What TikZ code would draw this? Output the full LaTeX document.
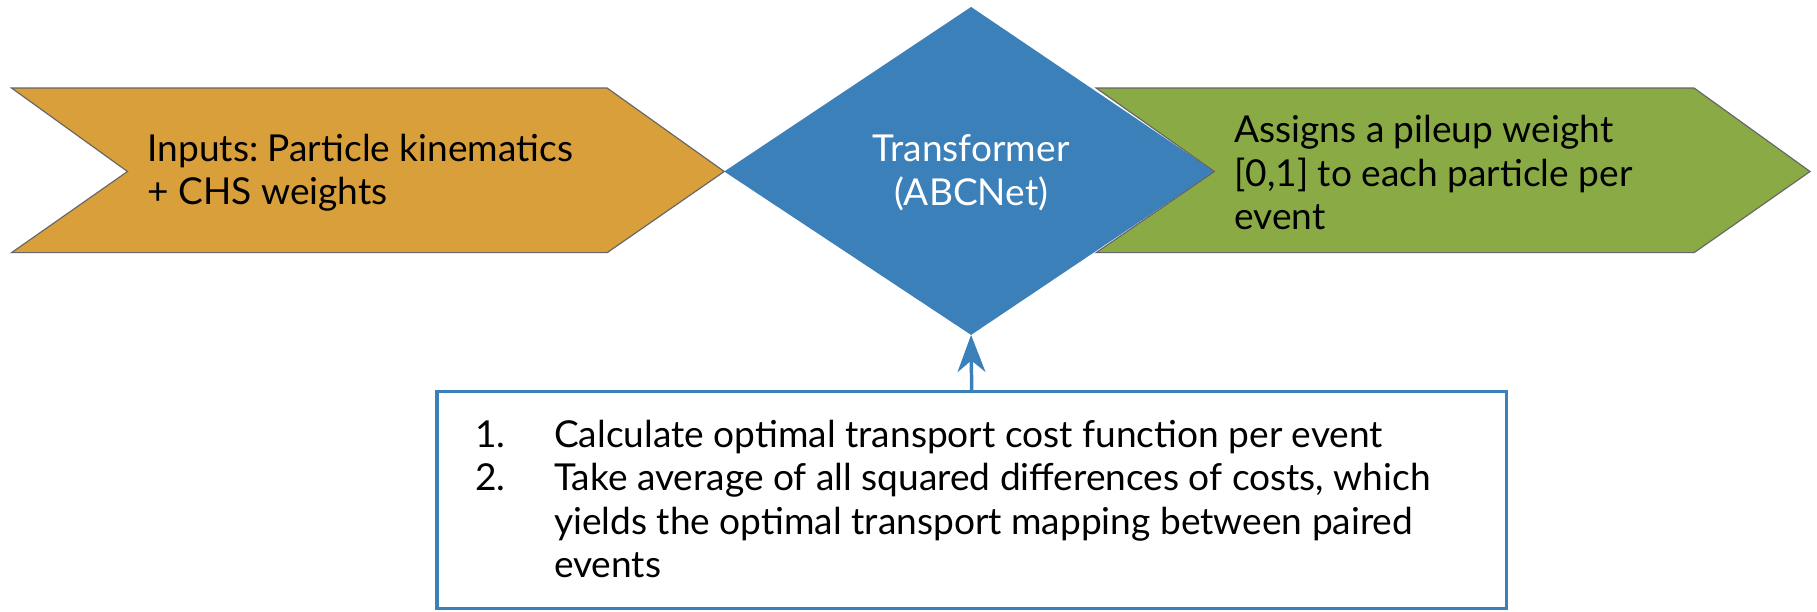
\documentclass[tikz,border=0pt]{standalone}
\usepackage{fontspec}
\setmainfont{Lato}
\usetikzlibrary{arrows.meta}
\frenchspacing
\definecolor{gold}{HTML}{D89F3B}
\definecolor{tblue}{HTML}{3B80B9}
\definecolor{lgreen}{HTML}{8AAA45}
\definecolor{edge}{HTML}{666666}
\tikzset{
  chev/.style={draw=edge, line width=1pt, line join=miter},
  txt/.style={font=\fontsize{32}{37.5}\selectfont, inner sep=0pt, align=left},
  wtxt/.style={font=\fontsize{32}{37.5}\selectfont, inner sep=0pt, align=center, text=white},
  listtxt/.style={font=\fontsize{32}{37.5}\selectfont, inner sep=0pt, anchor=base west},
  flow/.style={draw=tblue, line width=3pt, -{Stealth[length=32pt, width=24pt, inset=10pt]}}
}
\begin{document}
\begin{tikzpicture}[x=1pt,y=-1pt]
\useasboundingbox (0,0) rectangle (1568,528);
\fill[white] (0,0) rectangle (1568,528);
% diamond
\fill[tblue] (838,6) -- (1048,148) -- (838,289) -- (625,148) -- cycle;
\coordinate (tbot) at (838,289);
% orange chevron
\draw[chev, fill=gold] (10,76) -- (524,76) -- (625,148) -- (524,218) -- (10,218) -- (110,148) -- cycle;
% green chevron
\draw[chev, fill=lgreen] (946,76) -- (1462,76) -- (1562,148) -- (1462,218) -- (946,218) -- (1048,148) -- cycle;
\node[txt, anchor=west] (inputs) at (127,149) {Inputs: Particle kinematics\\+ CHS weights};
\node[wtxt] (transformer) at (838,149) {Transformer\\(ABCNet)};
\node[txt, anchor=west] (assigns) at (1065,149) {Assigns a pileup weight\\{[0,1]} to each particle per\\event};
% box
\node[draw=tblue, line width=3pt, fill=white, minimum width=923pt, minimum height=187pt, inner sep=0pt] (box) at (838.5,431.5) {};
\draw[flow] (box.north) -- (tbot);
\node[listtxt] (n1) at (410,386) {1.};
\node[listtxt] (l1) at (478,386) {Calculate optimal transport cost function per event};
\node[listtxt] (n2) at (410,423.5) {2.};
\node[listtxt] (l2) at (478,423.5) {Take average of all squared differences of costs, which};
\node[listtxt] (l3) at (478,461) {yields the optimal transport mapping between paired};
\node[listtxt] (l4) at (478,498.5) {events};
\end{tikzpicture}
\end{document}
